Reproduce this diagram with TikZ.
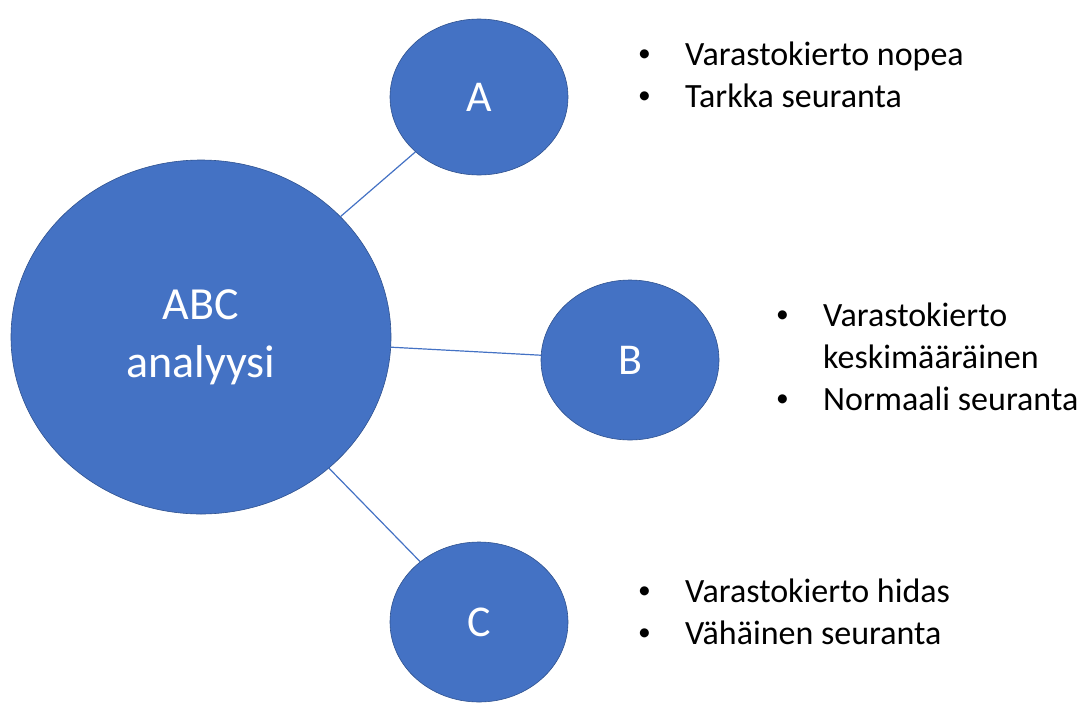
\documentclass[tikz,border=0pt]{standalone}
\usepackage{fontspec}
\setmainfont{Carlito}
\usetikzlibrary{shapes.geometric}
\definecolor{abcblue}{HTML}{4472C4}
\definecolor{abcedge}{HTML}{2F528F}
\newcommand{\listdot}{\raisebox{0.12em}{\scalebox{0.75}{\textbullet}}}
\newcommand{\bulletlist}[1]{%
  \begin{tabular}{@{}p{47pt}@{}l@{}}#1\end{tabular}}

\begin{document}
\begin{tikzpicture}[x=1pt, y=-1pt,
  ball/.style={ellipse, draw=abcedge, line width=0.6pt, fill=abcblue,
    text=white, inner sep=0pt},
  link/.style={draw=abcblue, line width=1.2pt},
  list/.style={anchor=north west, inner sep=0pt, font=\fontsize{34}{42}\selectfont}]
  \useasboundingbox (0,0) rectangle (1087,702);
  \node[ball, minimum width=380pt, minimum height=354pt,
    align=center, font=\fontsize{46}{58}\selectfont] (abc) at (201,337) {ABC\\analyysi};
  \node[ball, minimum width=178pt, minimum height=156pt,
    font=\fontsize{44}{48}\selectfont] (A) at (479,97) {A};
  \node[ball, minimum width=178pt, minimum height=160pt,
    font=\fontsize{44}{48}\selectfont] (B) at (630,360) {B};
  \node[ball, minimum width=178pt, minimum height=160pt,
    font=\fontsize{44}{48}\selectfont] (C) at (479,622) {C};
  \draw[link] (abc) -- (A);
  \draw[link] (abc) -- (B);
  \draw[link] (abc) -- (C);
  % lists beside the circles
  \node[list] (listA) at (638,36) {\bulletlist{\listdot & Varastokierto nopea\\
    \listdot & Tarkka seuranta}};
  \node[list] (listB) at (776,297) {\bulletlist{\listdot & Varastokierto\\
    & keskimääräinen\\ \listdot & Normaali seuranta}};
  \node[list] (listC) at (638,573) {\bulletlist{\listdot & Varastokierto hidas\\
    \listdot & Vähäinen seuranta}};
\end{tikzpicture}
\end{document}
